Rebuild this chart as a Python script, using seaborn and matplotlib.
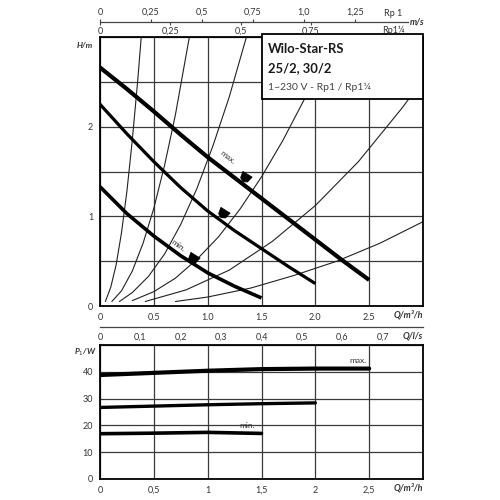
import numpy as np
import pandas as pd
import matplotlib
matplotlib.use("Agg")
import matplotlib.pyplot as plt
import seaborn as sns
from matplotlib.patches import Rectangle
from matplotlib.path import Path
from matplotlib.markers import MarkerStyle
from matplotlib.transforms import Affine2D

sns.set_style("white")
plt.rcParams['font.family'] = ['Lato', 'DejaVu Sans']

# ---------------- data: pump head curves (Q in m3/h, H in m) ----------------
q_max = [0, 0.25, 0.5, 0.75, 1.0, 1.25, 1.5, 1.75, 2.0, 2.25, 2.5]
h_max = [2.66, 2.42, 2.17, 1.91, 1.66, 1.43, 1.20, 0.97, 0.74, 0.51, 0.29]
q_mid = [0, 0.25, 0.5, 0.75, 1.0, 1.25, 1.5, 1.75, 2.0]
h_mid = [2.25, 1.92, 1.61, 1.32, 1.06, 0.84, 0.64, 0.44, 0.25]
q_min = [0, 0.25, 0.5, 0.75, 1.0, 1.25, 1.5]
h_min = [1.33, 1.03, 0.78, 0.56, 0.37, 0.22, 0.09]

# system curves (thin lines)
sys1_q = [0.05, 0.10, 0.15, 0.20, 0.25, 0.30, 0.35, 0.383]
sys1_h = [0.05, 0.21, 0.46, 0.82, 1.28, 1.85, 2.51, 3.0]
sys2_q = [0.11, 0.20, 0.30, 0.40, 0.50, 0.60, 0.70, 0.83]
sys2_h = [0.05, 0.17, 0.39, 0.70, 1.09, 1.57, 2.13, 3.0]
sys3_q = [0.18, 0.30, 0.45, 0.60, 0.75, 0.90, 1.05, 1.20, 1.36]
sys3_h = [0.05, 0.15, 0.33, 0.58, 0.91, 1.31, 1.79, 2.33, 3.0]
sys4_q = [0.30, 0.50, 0.70, 0.90, 1.10, 1.30, 1.50, 1.70, 1.90, 2.00]
sys4_h = [0.06, 0.16, 0.31, 0.52, 0.77, 1.08, 1.44, 1.85, 2.31, 2.56]
sys5_q = [0.42, 0.80, 1.20, 1.60, 2.00, 2.40, 2.80, 3.00]
sys5_h = [0.05, 0.18, 0.40, 0.72, 1.12, 1.61, 2.20, 2.52]
sys6_q = [0.70, 1.00, 1.40, 1.80, 2.20, 2.60, 3.00]
sys6_h = [0.05, 0.10, 0.20, 0.34, 0.50, 0.70, 0.94]

# speed markers on head chart
marker_q = [1.35, 1.14, 0.86]
marker_h = [1.44, 1.04, 0.54]

# ---------------- data: power curves (P1 in W) ----------------
pq_max = [0, 0.5, 1.0, 1.5, 2.0, 2.5]
p_max = [38.8, 39.6, 40.4, 41.0, 41.2, 41.2]
pq_mid = [0, 0.5, 1.0, 1.5, 2.0]
p_mid = [26.7, 27.2, 27.7, 28.1, 28.4]
pq_min = [0, 0.5, 1.0, 1.5]
p_min = [16.9, 17.1, 17.4, 17.0]

# tick labels
q_ticks = [0, 0.5, 1.0, 1.5, 2.0, 2.5, 3.0]
q_labels_top = ['0', '0.5', '1.0', '1.5', '2.0', '2.5', '']
q_labels_bot = ['0', '0,5', '1', '1,5', '2', '2,5', '']
h_ticks = [0, 0.5, 1, 1.5, 2, 2.5, 3]
h_labels = ['0', '', '1', '', '2', '', '']
p_ticks = [0, 10, 20, 30, 40, 50]
p_labels = ['0', '10', '20', '30', '40', '']
ls_ticks = [0, 0.1, 0.2, 0.3, 0.4, 0.5, 0.6, 0.7]
ls_labels = ['0', '0,1', '0,2', '0,3', '0,4', '0,5', '0,6', '0,7']
v1_ticks = [0, 0.25, 0.5, 0.75, 1.0, 1.25]
v1_labels = ['0', '0,25', '0,5', '0,75', '1,0', '1,25']
v2_ticks = [0, 0.25, 0.5, 0.75]
v2_labels = ['0', '0,25', '0,5', '0,75']

TXT = '#333333'
GRID = '#3a3a3a'
W, H = 500.0, 500.0

fig = plt.figure(figsize=(5, 5), dpi=100)

def fx(px):
    return px / W

def fy(py):
    return 1 - py / H

# ---------------- head chart ----------------
ax1 = fig.add_axes([fx(100), fy(306), fx(323), (306 - 37) / H])
ax1.set_xlim(0, 3.0)
ax1.set_ylim(0, 3.0)
ax1.set_xticks(q_ticks)
ax1.set_xticklabels(q_labels_top)
ax1.set_yticks(h_ticks)
ax1.set_yticklabels(h_labels)
ax1.grid(True, color=GRID, lw=0.9, zorder=0)
ax1.set_axisbelow(True)
ax1.tick_params(length=0, labelsize=6.5, labelcolor=TXT, pad=5)

for sq, sh in [(sys1_q, sys1_h), (sys2_q, sys2_h), (sys3_q, sys3_h),
               (sys4_q, sys4_h), (sys5_q, sys5_h), (sys6_q, sys6_h)]:
    sns.lineplot(x=sq, y=sh, ax=ax1, color='#222222', lw=0.8, zorder=2)

for cq, ch, lw in [(q_max, h_max, 3.0), (q_mid, h_mid, 2.3), (q_min, h_min, 2.6)]:
    sns.lineplot(x=cq, y=ch, ax=ax1, color='black', lw=lw, zorder=4,
                 solid_capstyle='butt', solid_joinstyle='round')

shape = Path([(-1.0, 0.7), (1.0, 0.7), (0.75, -0.5), (0.0, -0.9), (-0.75, -0.5), (-1.0, 0.7)],
             [Path.MOVETO, Path.LINETO, Path.LINETO, Path.LINETO, Path.LINETO, Path.CLOSEPOLY])
mk = MarkerStyle(shape, transform=Affine2D().rotate_deg(-32))
sns.scatterplot(x=marker_q, y=marker_h, ax=ax1, marker=mk, s=60, color='black',
                edgecolor='black', zorder=5)

ax1.text(1.19, 1.66, 'max.', rotation=-38, fontsize=6, color=TXT,
         ha='center', va='center', zorder=6)
ax1.text(0.73, 0.67, 'min.', rotation=-36, fontsize=6, color=TXT,
         ha='center', va='center', zorder=6)

box = Rectangle((1.505, 2.31), 3.0 - 1.505, 0.72, facecolor='white',
                edgecolor='black', lw=1.3, zorder=7, clip_on=False)
ax1.add_patch(box)
fig.text(fx(268), fy(53), 'Wilo-Star-RS', fontsize=9.4, fontweight='bold',
         color='#1a1a1a', ha='left', va='baseline', zorder=8)
fig.text(fx(268), fy(72), '25/2, 30/2', fontsize=9.4, fontweight='bold',
         color='#1a1a1a', ha='left', va='baseline', zorder=8)
fig.text(fx(268), fy(90), '1~230 V - Rp1 / Rp1¼', fontsize=7.5,
         color='#444444', ha='left', va='baseline', zorder=8)

for s in ax1.spines.values():
    s.set_color('black')
    s.set_linewidth(1.3)

ax1.set_xlabel('')
ax1.set_ylabel('')
fig.text(fx(93), fy(45), 'H/m', fontsize=6, fontweight='bold', style='italic',
         color=TXT, ha='right', va='center')
fig.text(fx(423), fy(315), 'Q/m³/h', fontsize=6.5, fontweight='bold', style='italic',
         color=TXT, ha='right', va='center')

# ---------------- velocity scales (top) ----------------
axv = fig.add_axes([fx(100), fy(22), fx(308), 0.0001])
axv.set_xlim(0, 308 / 204.0)
axv.set_yticks([])
for k in ['left', 'right', 'top']:
    axv.spines[k].set_visible(False)
axv.spines['bottom'].set_color('#444444')
axv.spines['bottom'].set_linewidth(0.9)
axv.patch.set_visible(False)

axv2 = axv.twiny()
axv2.set_xlim(0, 308 / 281.0)
for k in ['left', 'right', 'top', 'bottom']:
    axv2.spines[k].set_visible(False)
axv2.patch.set_visible(False)

axv.set_xticks(v1_ticks)
axv.set_xticklabels(v1_labels)
axv.xaxis.set_ticks_position('top')
axv.tick_params(axis='x', top=True, bottom=False, labeltop=True, labelbottom=False,
                direction='out', length=2.5, width=0.8, colors='#444444',
                labelsize=6.5, labelcolor=TXT, pad=1)

axv2.set_xticks(v2_ticks)
axv2.set_xticklabels(v2_labels)
axv2.xaxis.set_ticks_position('bottom')
axv2.tick_params(axis='x', top=False, bottom=True, labeltop=False, labelbottom=True,
                 direction='out', length=2.5, width=0.8, colors='#444444',
                 labelsize=6.5, labelcolor=TXT, pad=1)

fig.text(fx(393), fy(14), 'Rp 1', fontsize=6.5, color=TXT, ha='center', va='center')
fig.text(fx(393), fy(30), 'Rp1¼', fontsize=6.5, color=TXT, ha='center', va='center')
fig.text(fx(410), fy(22), 'm/s', fontsize=6.5, fontweight='bold', style='italic',
         color=TXT, ha='left', va='center')

# ---------------- l/s scale ----------------
axl = fig.add_axes([fx(100), fy(327), fx(323), 0.0001])
axl.set_xlim(0, 323 / 404.0)
axl.set_yticks([])
for k in ['left', 'right', 'top']:
    axl.spines[k].set_visible(False)
axl.spines['bottom'].set_color('#444444')
axl.spines['bottom'].set_linewidth(0.9)
axl.patch.set_visible(False)
axl.set_xticks(ls_ticks)
axl.set_xticklabels(ls_labels)
axl.tick_params(axis='x', direction='inout', length=4, width=0.8, colors='#444444',
                labelsize=6.5, labelcolor=TXT, pad=2)
fig.text(fx(423), fy(336), 'Q/l/s', fontsize=6.5, fontweight='bold', style='italic',
         color=TXT, ha='right', va='center')

# ---------------- power chart ----------------
ax2 = fig.add_axes([fx(100), fy(479), fx(323), (479 - 345) / H])
ax2.set_xlim(0, 3.0)
ax2.set_ylim(0, 50)
ax2.set_xticks(q_ticks)
ax2.set_xticklabels(q_labels_bot)
ax2.set_yticks(p_ticks)
ax2.set_yticklabels(p_labels)
ax2.grid(True, color=GRID, lw=0.9, zorder=0)
ax2.set_axisbelow(True)
ax2.tick_params(length=0, labelsize=6.5, labelcolor=TXT, pad=5)

sns.lineplot(x=pq_max, y=p_max, ax=ax2, color='black', lw=3.0, zorder=4)
sns.lineplot(x=pq_mid, y=p_mid, ax=ax2, color='black', lw=2.4, zorder=4)
sns.lineplot(x=pq_min, y=p_min, ax=ax2, color='black', lw=2.6, zorder=4)
ax2.text(2.40, 44.2, 'max.', fontsize=6, color=TXT, ha='center', va='center')
ax2.text(1.37, 19.8, 'min.', fontsize=6, color=TXT, ha='center', va='center')

for s in ax2.spines.values():
    s.set_color('black')
    s.set_linewidth(1.3)
ax2.set_xlabel('')
ax2.set_ylabel('')
fig.text(fx(97), fy(352), 'P$_1$/W', fontsize=6, fontweight='bold', style='italic',
         color=TXT, ha='right', va='center')
fig.text(fx(423), fy(488), 'Q/m³/h', fontsize=6.5, fontweight='bold', style='italic',
         color=TXT, ha='right', va='center')

fig.savefig('out.png', dpi=100, facecolor='white')
